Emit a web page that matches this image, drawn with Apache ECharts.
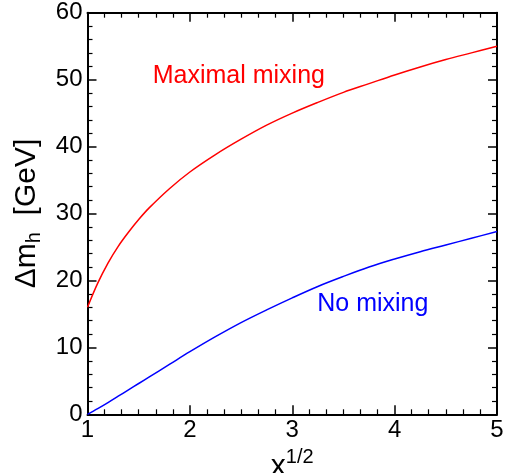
<!DOCTYPE html>
<html>
<head>
<meta charset="utf-8">
<script src="https://cdn.jsdelivr.net/npm/echarts@6/dist/echarts.min.js"></script>
<style>
html,body{margin:0;padding:0;background:#fff;}
#c{width:508px;height:473px;}
</style>
</head>
<body>
<div id="c"></div>
<script>
// x^(1/2) values
var xVals = [1.0, 1.1, 1.2, 1.3, 1.4, 1.5, 1.6, 1.8, 2.0, 2.25, 2.5, 2.75, 3.0, 3.25, 3.5, 3.75, 4.0, 4.25, 4.5, 4.75, 5.0];
// Delta m_h [GeV], maximal mixing
var maxMixing = [16.0, 19.6, 22.6, 25.1, 27.2, 29.1, 30.8, 33.7, 36.2, 38.8, 41.1, 43.2, 45.0, 46.6, 48.1, 49.4, 50.7, 51.9, 53.0, 54.0, 55.0];
// Delta m_h [GeV], no mixing
var noMixing = [0.0, 0.85, 1.75, 2.7, 3.65, 4.6, 5.55, 7.45, 9.35, 11.6, 13.7, 15.6, 17.4, 19.1, 20.6, 22.0, 23.2, 24.3, 25.3, 26.3, 27.3];
var xTicks = [1, 2, 3, 4, 5];
var yTicks = [0, 10, 20, 30, 40, 50, 60];

function pairs(xs, ys){ return xs.map(function(x,i){ return [x, ys[i]]; }); }

var FONT = '"Liberation Sans", Arial, sans-serif';
var axisLine = {show:true, onZero:false, lineStyle:{color:'#000', width:2}};
var tick = {show:true, inside:true, length:9, lineStyle:{color:'#000', width:1.5}};
var minorX = {show:true, splitNumber:6, length:5, lineStyle:{color:'#000', width:1.2}};
var minorY = {show:true, splitNumber:5, length:5, lineStyle:{color:'#000', width:1.2}};

var chart = echarts.init(document.getElementById('c'), null, {renderer:'canvas'});
chart.setOption({
  backgroundColor:'#fff',
  animation:false,
  grid:{left:87.5, right:11, top:12.7, bottom:58.7, containLabel:false, outerBoundsMode:'none'},
  xAxis:[{
    type:'value', min:xTicks[0], max:xTicks[xTicks.length-1], interval:1, position:'bottom',
    axisLine:axisLine, axisTick:tick, minorTick:minorX, splitLine:{show:false},
    axisLabel:{margin:4, color:'#000', fontFamily:FONT, fontSize:24},
    name:'{x|x}{s|1/2}', nameLocation:'middle', nameGap:22,
    nameTextStyle:{rich:{
      x:{fontFamily:FONT, fontSize:30, lineHeight:40, color:'#000'},
      s:{fontFamily:FONT, fontSize:20, lineHeight:20, verticalAlign:'top', color:'#000'}
    }}
  },{
    type:'value', min:xTicks[0], max:xTicks[xTicks.length-1], interval:1, position:'top',
    axisLine:axisLine, axisTick:tick, minorTick:minorX, splitLine:{show:false},
    axisLabel:{show:false}
  }],
  yAxis:[{
    type:'value', min:yTicks[0], max:yTicks[yTicks.length-1], interval:10, position:'left',
    axisLine:axisLine, axisTick:tick, minorTick:minorY, splitLine:{show:false},
    axisLabel:{margin:5, color:'#000', fontFamily:FONT, fontSize:24},
    name:'{m|Δm}{h|h}{m|  [GeV]}', nameLocation:'middle', nameGap:36, nameRotate:90,
    nameTextStyle:{rich:{
      m:{fontFamily:FONT, fontSize:30, lineHeight:36, color:'#000'},
      h:{fontFamily:FONT, fontSize:20, lineHeight:20, verticalAlign:'bottom', color:'#000'}
    }}
  },{
    type:'value', min:yTicks[0], max:yTicks[yTicks.length-1], interval:10, position:'right',
    axisLine:axisLine, axisTick:tick, minorTick:minorY, splitLine:{show:false},
    axisLabel:{show:false}
  }],
  series:[{
    name:'Maximal mixing', type:'line', data:pairs(xVals, maxMixing), smooth:0.35,
    showSymbol:false, symbol:'none', lineStyle:{color:'#ff0000', width:1.5},
    markPoint:{symbol:'circle', symbolSize:0, silent:true,
      label:{show:true, position:'right', distance:0, formatter:'Maximal mixing', color:'#ff0000', fontFamily:FONT, fontSize:25},
      data:[{coord:[1.637, 50.5]}]}
  },{
    name:'No mixing', type:'line', data:pairs(xVals, noMixing), smooth:0.35,
    showSymbol:false, symbol:'none', lineStyle:{color:'#0000ff', width:1.5},
    markPoint:{symbol:'circle', symbolSize:0, silent:true,
      label:{show:true, position:'right', distance:0, formatter:'No mixing', color:'#0000ff', fontFamily:FONT, fontSize:25},
      data:[{coord:[3.244, 16.5]}]}
  }]
});
</script>
</body>
</html>
